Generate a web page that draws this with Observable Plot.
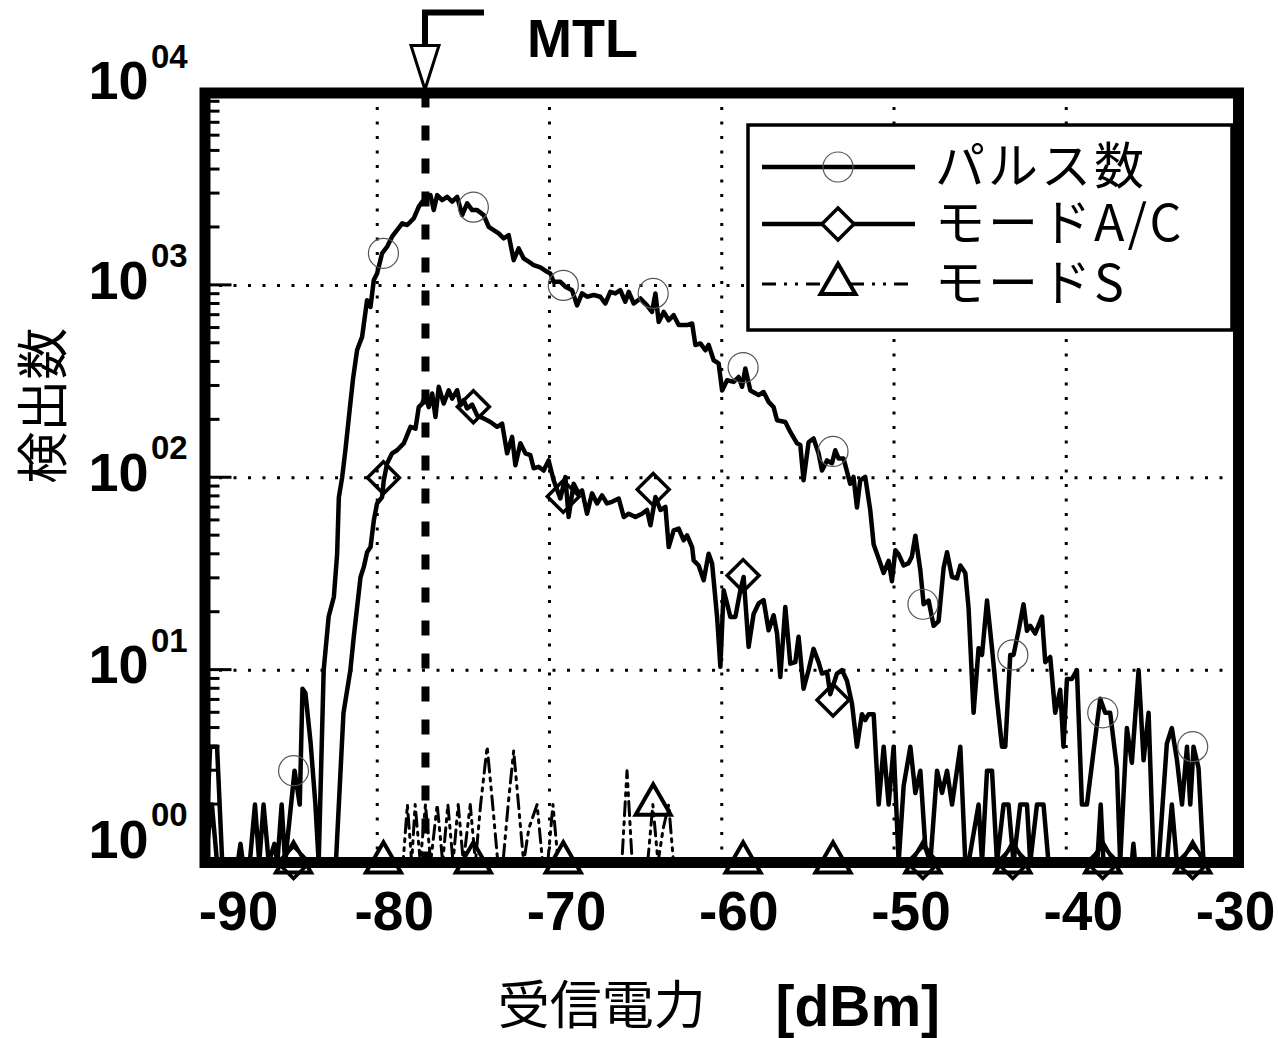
<!DOCTYPE html>
<html><head><meta charset="utf-8">
<script src="https://cdn.jsdelivr.net/npm/d3@7"></script>
<script src="https://cdn.jsdelivr.net/npm/@observablehq/plot@0.6"></script>
<style>body{margin:0;background:#fff}</style>
</head><body><div id="chart"></div>
<script>
const xDomain = [-90, -30];
const yDomain = [1, 10000];
const xTicks = [-90, -80, -70, -60, -50, -40, -30];
const xGrid = [-80, -70, -60, -50, -40];
const yTicks = [1, 10, 100, 1000, 10000];
const yTickBase = "10";
const yTickExp = ["00", "01", "02", "03", "04"];
const yGrid = [10, 100, 1000];
const mtl = -77.2;
const mtlLabel = "MTL";
const xTitle = "受信電力";
const xUnit = "[dBm]";
const yTitle = "検出数";
const seriesNames = ["パルス数", "モードA/C", "モードS"];

// [dBm, count]
const pulse = [
[-90,1],[-89.7,4],[-89.3,4],[-89,0],[-88.1,0],[-87.94,1.25],[-87.8,0],[-87.4,0],[-87.1,2],[-86.85,0],[-86.6,2],[-86.3,0],[-85.97,1.25],[-85.8,0],[-85.55,2],[-85.35,0],[-84.8,3],[-84.5,2],[-84.34,8],[-84.17,7.6],[-83.87,4.2],[-83.59,2],[-83.4,0],[-83.11,10],[-82.82,19],[-82.52,24],[-82.33,40],[-82.23,79],[-82.04,100],[-81.85,139],[-81.56,244],[-81.4,330],[-81.17,461],[-80.88,540],[-80.59,838],[-80.39,773],[-80.2,1065],[-80.01,1153],[-79.72,1466],[-79.43,1588],[-79.14,1791],[-78.85,1938],[-78.55,2100],[-78.26,2059],[-77.88,2230],[-77.59,2563],[-77.39,2722],[-77.2,2834],[-76.91,2946],[-76.72,2462],[-76.52,2946],[-76.23,2775],[-75.94,2888],[-75.65,2722],[-75.36,2888],[-75.07,2318],[-74.78,2669],[-74.49,2462],[-74.2,2462],[-73.82,2318],[-73.53,2017],[-73.24,1938],[-72.95,1862],[-72.66,1754],[-72.37,1825],[-72.08,1353],[-71.79,1557],[-71.5,1380],[-71.21,1327],[-70.92,1276],[-70.53,1240],[-70.14,1176],[-69.95,1153],[-69.76,1043],[-69.37,1043],[-69.08,984],[-68.69,944],[-68.4,787],[-68.11,908],[-67.82,873],[-67.43,891],[-67.05,873],[-66.76,805],[-66.47,925],[-66.18,908],[-65.89,944],[-65.6,822],[-65.4,925],[-65.11,805],[-64.72,855],[-64.34,787],[-64.05,728],[-63.85,908],[-63.66,646],[-63.37,728],[-63.08,659],[-62.79,700],[-62.5,622],[-62.01,622],[-61.72,634],[-61.53,490],[-61.24,499],[-60.95,460],[-60.76,490],[-60.47,408],[-60.18,393],[-59.98,284],[-59.69,321],[-59.31,315],[-59.02,334],[-58.82,297],[-58.63,370],[-58.34,284],[-57.86,269],[-57.57,279],[-57.28,248],[-56.99,233],[-56.79,199],[-56.31,195],[-56.02,173],[-55.63,151],[-55.44,148],[-55.25,97],[-54.96,153],[-54.67,160],[-54.38,134],[-54.18,109],[-53.89,123],[-53.6,119],[-53.41,139],[-53.22,126],[-52.93,126],[-52.54,93],[-52.35,101],[-52.15,70],[-51.96,97],[-51.67,101],[-51.38,68],[-51.18,45],[-50.8,36],[-50.6,32],[-50.31,37],[-50.12,29],[-49.92,42],[-49.73,40],[-49.44,35],[-49.15,36],[-48.96,39],[-48.76,50],[-48.47,33],[-48.28,22],[-47.99,23],[-47.7,17],[-47.41,18],[-47.12,34],[-46.92,41],[-46.63,30.5],[-46.34,30],[-46.15,35],[-45.86,32],[-45.67,21],[-45.38,6],[-45.09,13],[-44.89,12],[-44.6,23],[-44.31,13],[-44.02,7],[-43.73,4],[-43.54,4],[-43.25,12],[-43.06,12],[-42.77,16],[-42.48,22],[-42.28,16],[-42.09,17],[-41.8,15.5],[-41.41,19],[-41.22,11],[-40.93,11.7],[-40.64,6],[-40.35,7.9],[-40.16,4],[-39.96,9],[-39.67,9],[-39.38,10],[-39.09,2],[-38.8,2],[-38.42,3.75],[-38.03,7.1],[-37.74,6],[-37.45,6],[-37.06,3.1],[-36.87,1],[-36.48,5],[-36.19,3.3],[-35.8,10],[-35.51,3.4],[-35.22,6],[-34.93,1],[-34.64,1],[-34.16,4.15],[-33.87,5],[-33.57,3.4],[-33.28,2],[-32.99,4],[-32.8,2],[-32.61,4],[-32.32,3.1],[-32.03,1],[-30,0]
];
const modeAC = [
[-90,1],[-89.6,2],[-89.3,0],[-82.4,0],[-81.96,6],[-81.56,10],[-81.36,15],[-80.97,30.5],[-80.78,34.4],[-80.59,41],[-80.39,43.6],[-80.2,60],[-80.01,73.5],[-79.72,79.4],[-79.62,97],[-79.43,118.5],[-79.14,134],[-78.85,139],[-78.46,151],[-78.07,184],[-77.78,180],[-77.59,233],[-77.39,243],[-77.2,269],[-77.01,233],[-76.81,274],[-76.62,207],[-76.43,297],[-76.14,243],[-75.85,285],[-75.65,258],[-75.36,285],[-75.17,238],[-74.98,253],[-74.78,229],[-74.49,240],[-74.2,211],[-73.82,203],[-73.43,195],[-73.04,184],[-72.75,191],[-72.46,134],[-72.17,163],[-71.98,116],[-71.69,151],[-71.4,134],[-71.11,131],[-70.92,112],[-70.63,114],[-70.34,109],[-70.05,123],[-69.76,97],[-69.37,78],[-69.08,101],[-68.89,62.5],[-68.6,93],[-68.31,83],[-68.11,86],[-67.82,65],[-67.53,83],[-67.24,73.5],[-66.95,81],[-66.66,73.5],[-66.37,75],[-65.98,78],[-65.69,62.5],[-65.4,65],[-65.01,62.5],[-64.63,65],[-64.34,68],[-64.14,56.6],[-63.85,79.4],[-63.56,68],[-63.27,70.5],[-63.08,43.6],[-62.79,53.3],[-62.5,54.4],[-62.21,47.3],[-62.01,50.2],[-61.72,43.6],[-61.63,37.2],[-61.34,35],[-61.05,29.3],[-60.76,40.3],[-60.56,35.8],[-60.27,18.9],[-60.08,10.4],[-59.89,26],[-59.69,22.2],[-59.5,18.9],[-59.21,18.9],[-58.92,26],[-58.73,30.5],[-58.44,13.2],[-58.15,19.6],[-57.86,22.2],[-57.57,23.1],[-57.28,16.1],[-56.99,19.3],[-56.79,15.5],[-56.6,9.2],[-56.31,21.3],[-56.02,10.8],[-55.73,11],[-55.54,14.9],[-55.25,8],[-54.96,10],[-54.67,12.9],[-54.38,11],[-54.18,9.6],[-53.89,9.8],[-53.7,7.5],[-53.31,9.6],[-53.02,10],[-52.73,8.8],[-52.44,6.7],[-52.15,4],[-51.86,5.9],[-51.67,5.5],[-51.47,5.9],[-51.18,5.9],[-50.89,2],[-50.6,4],[-50.31,2],[-50.02,4],[-49.73,1],[-49.44,2.5],[-49.05,4],[-48.76,2.3],[-48.47,3],[-48.18,1.2],[-47.89,1],[-47.5,3],[-47.21,2.3],[-46.92,3],[-46.63,2],[-46.15,4],[-45.86,1],[-45.67,1],[-45.09,2],[-44.89,1],[-44.6,3],[-44.31,3],[-44.02,1],[-43.64,2],[-43.35,2],[-43.06,1],[-42.67,2],[-42.28,2],[-42.09,1],[-41.7,2],[-41.32,2],[-41.03,1],[-38.2,1],[-38,2],[-37.84,1],[-36.2,1],[-36.1,1.25],[-36,1],[-34.16,1],[-33.87,2],[-33.58,1],[-30,1]
];
const modeS = [
[-90,0],[-78.5,0],[-78.25,2],[-78,1],[-77.8,2],[-77.5,1],[-77.2,2],[-76.9,1],[-76.52,2],[-76.2,1],[-75.9,2],[-75.6,1],[-75.3,2],[-75,1],[-74.6,2],[-74.3,1],[-74,2],[-73.62,4],[-73.3,2],[-73,1],[-72.7,1],[-72.4,2],[-72.08,3.8],[-71.8,2],[-71.5,1],[-71.2,1.5],[-70.72,2],[-70.4,1],[-70.1,1],[-69.8,2],[-69.5,1],[-65.8,1],[-65.5,3],[-65.2,1],[-64.9,1],[-64.6,0],[-64.3,1],[-64,2],[-63.7,1],[-63.4,1.5],[-63.08,2],[-62.8,0],[-30,0]
];
const markerX = [-84.86, -79.64, -74.42, -69.2, -63.98, -58.76, -53.54, -48.32, -43.1, -37.88, -32.66];
const pulseAtMarker = [3, 1468, 2550, 1000, 908, 374, 137, 22, 12, 6, 4];
const acAtMarker = [0, 100, 234, 80, 87, 31, 7, 0, 0, 0, 0];
const sAtMarker = [0, 0, 0, 0, 2, 0, 0, 0, 0, 0, 0];

const numFont = "'Liberation Sans', Arial, Helvetica, sans-serif";
const jpFont = "'Noto Sans CJK JP', 'Noto Sans CJK SC', sans-serif";
const floor1 = v => Math.max(v, 1);
const yLabels = yTicks.map((v, i) => ({v, exp: yTickExp[i]}));
const markerRows = (vals) => markerX.map((x, i) => ({x, v: floor1(vals[i])}));

const labelMarks = [];
for (const [val, dy] of [[1, -22], [10000, -11], [null, -4]]) {
  const f = val === null ? (d => d.v !== 1 && d.v !== 10000) : (d => d.v === val);
  labelMarks.push(Plot.text(yLabels, {filter: f, y: "v", text: () => yTickBase, frameAnchor: "left", textAnchor: "end", lineAnchor: "middle", dx: -56.5, dy, fontSize: 54, fontWeight: "bold", fontFamily: numFont}));
  labelMarks.push(Plot.text(yLabels, {filter: f, y: "v", text: "exp", frameAnchor: "left", textAnchor: "start", lineAnchor: "middle", dx: -54, dy: dy - 25, fontSize: 33, fontWeight: "bold", fontFamily: numFont}));
}
const xLab = {x: d => d, text: d => String(d), frameAnchor: "bottom", lineAnchor: "middle", dy: 50, fontSize: 55, fontWeight: "bold", fontFamily: numFont};

const chart = Plot.plot({
  width: 1278, height: 1038,
  marginLeft: 204.5, marginRight: 40, marginTop: 92.5, marginBottom: 176,
  x: {domain: xDomain, axis: null},
  y: {type: "log", domain: yDomain, axis: null},
  style: {background: "white", color: "black"},
  marks: [
    Plot.ruleX(xGrid, {x: d => d, stroke: "black", strokeWidth: 3, strokeDasharray: "3,11.5"}),
    Plot.ruleY(yGrid, {y: d => d, stroke: "black", strokeWidth: 3, strokeDasharray: "3,11.5"}),
    Plot.line(modeS, {x: d => d[0], y: d => floor1(d[1]), stroke: "black", strokeWidth: 3, strokeDasharray: "14,6,3,6,3,6", clip: true}),
    Plot.line(pulse, {x: d => d[0], y: d => floor1(d[1]), stroke: "black", strokeWidth: 4.5, strokeLinejoin: "round", clip: true}),
    Plot.line(modeAC, {x: d => d[0], y: d => floor1(d[1]), stroke: "black", strokeWidth: 4.5, strokeLinejoin: "round", clip: true}),
    Plot.ruleX([mtl], {x: d => d, stroke: "black", strokeWidth: 8, strokeDasharray: "15,18"}),
    Plot.frame({stroke: "black", strokeWidth: 11}),
    Plot.dot(markerRows(pulseAtMarker), {x: "x", y: "v", r: 15, stroke: "#555", strokeWidth: 1.2, fill: "none"}),
    Plot.dot(markerRows(acAtMarker), {x: "x", y: "v", symbol: "diamond2", r: 14.4, stroke: "black", strokeWidth: 3.5, fill: "none"}),
    Plot.dot(markerRows(sAtMarker), {x: "x", y: "v", symbol: "triangle", r: 13, stroke: "black", strokeWidth: 4, fill: "none"}),
    Plot.text(xTicks, {...xLab, filter: d => d === xTicks[0], dx: 33.5}),
    Plot.text(xTicks, {...xLab, filter: d => d !== xTicks[0] && d !== xTicks[xTicks.length - 1], dx: 17}),
    Plot.text(xTicks, {...xLab, filter: d => d === xTicks[xTicks.length - 1], dx: -3}),
    ...labelMarks,
    Plot.text([xTitle], {text: d => d, frameAnchor: "bottom", lineAnchor: "middle", dx: -120, dy: 145, fontSize: 52, fontFamily: jpFont}),
    Plot.text([xUnit], {text: d => d, frameAnchor: "bottom", lineAnchor: "middle", dx: 136, dy: 145, fontSize: 57, fontWeight: "bold", fontFamily: numFont}),
    Plot.text([yTitle], {text: d => d, frameAnchor: "left", lineAnchor: "middle", rotate: -90, dx: -159.5, dy: 6, fontSize: 52, fontFamily: jpFont}),
    Plot.text([mtlLabel], {x: () => mtl, text: d => d, frameAnchor: "top", lineAnchor: "middle", dx: 157, dy: -53, fontSize: 54, fontWeight: "bold", fontFamily: numFont})
  ]
});
document.getElementById("chart").appendChild(chart);

// overlays: inward log ticks, MTL arrow, legend
const svgSel = d3.select(chart);
const xs = chart.scale("x"), ys = chart.scale("y");
const x0 = xs.apply(xDomain[0]);
const minorTicks = [];
for (let e = 0; e < 4; e++) for (let m = 2; m <= 9; m++) minorTicks.push(m * 10 ** e);
const tg = svgSel.append("g").attr("stroke", "black").attr("stroke-width", 3);
tg.selectAll("line.mi").data(minorTicks).join("line").attr("class", "mi")
  .attr("x1", x0).attr("x2", x0 + 15).attr("y1", d => ys.apply(d)).attr("y2", d => ys.apply(d));
tg.selectAll("line.ma").data(yGrid).join("line").attr("class", "ma")
  .attr("x1", x0).attr("x2", x0 + 27).attr("y1", d => ys.apply(d)).attr("y2", d => ys.apply(d));

const mx = xs.apply(mtl), topY = ys.apply(yDomain[1]);
svgSel.append("path").attr("d", `M${mx},${topY - 47}V${topY - 80}H${mx + 59}`)
  .attr("fill", "none").attr("stroke", "black").attr("stroke-width", 6);
svgSel.append("path").attr("d", `M${mx - 14},${topY - 47}L${mx + 14},${topY - 47}L${mx},${topY - 3}Z`)
  .attr("fill", "white").attr("stroke", "black").attr("stroke-width", 3);

const lg = svgSel.append("g");
lg.append("rect").attr("x", 748).attr("y", 125).attr("width", 484).attr("height", 205)
  .attr("fill", "white").attr("stroke", "black").attr("stroke-width", 3.5);
const legendRows = [
  {y: 167, dash: null, sym: d3.symbolCircle, size: Math.PI * 225, stroke: "#555", sw: 1.2},
  {y: 224, dash: null, sym: d3.symbolDiamond2, size: 653, stroke: "black", sw: 3.5},
  {y: 284, dash: "14,8,3,8,3,8", sym: d3.symbolTriangle, size: 530, stroke: "black", sw: 4}
];
legendRows.forEach((r, i) => {
  lg.append("line").attr("x1", 762).attr("x2", 915).attr("y1", r.y).attr("y2", r.y)
    .attr("stroke", "black").attr("stroke-width", i === 2 ? 3 : 4.5).attr("stroke-dasharray", r.dash);
  lg.append("path").attr("d", d3.symbol(r.sym, r.size)()).attr("transform", `translate(838,${r.y})`)
    .attr("fill", i === 0 ? "none" : "white").attr("stroke", r.stroke).attr("stroke-width", r.sw);
  lg.append("text").attr("x", 935).attr("y", r.y + 3).attr("dominant-baseline", "middle")
    .attr("text-anchor", "start").attr("letter-spacing", 3)
    .attr("font-family", jpFont).attr("font-size", 50).attr("fill", "black").text(seriesNames[i]);
});
</script></body></html>
